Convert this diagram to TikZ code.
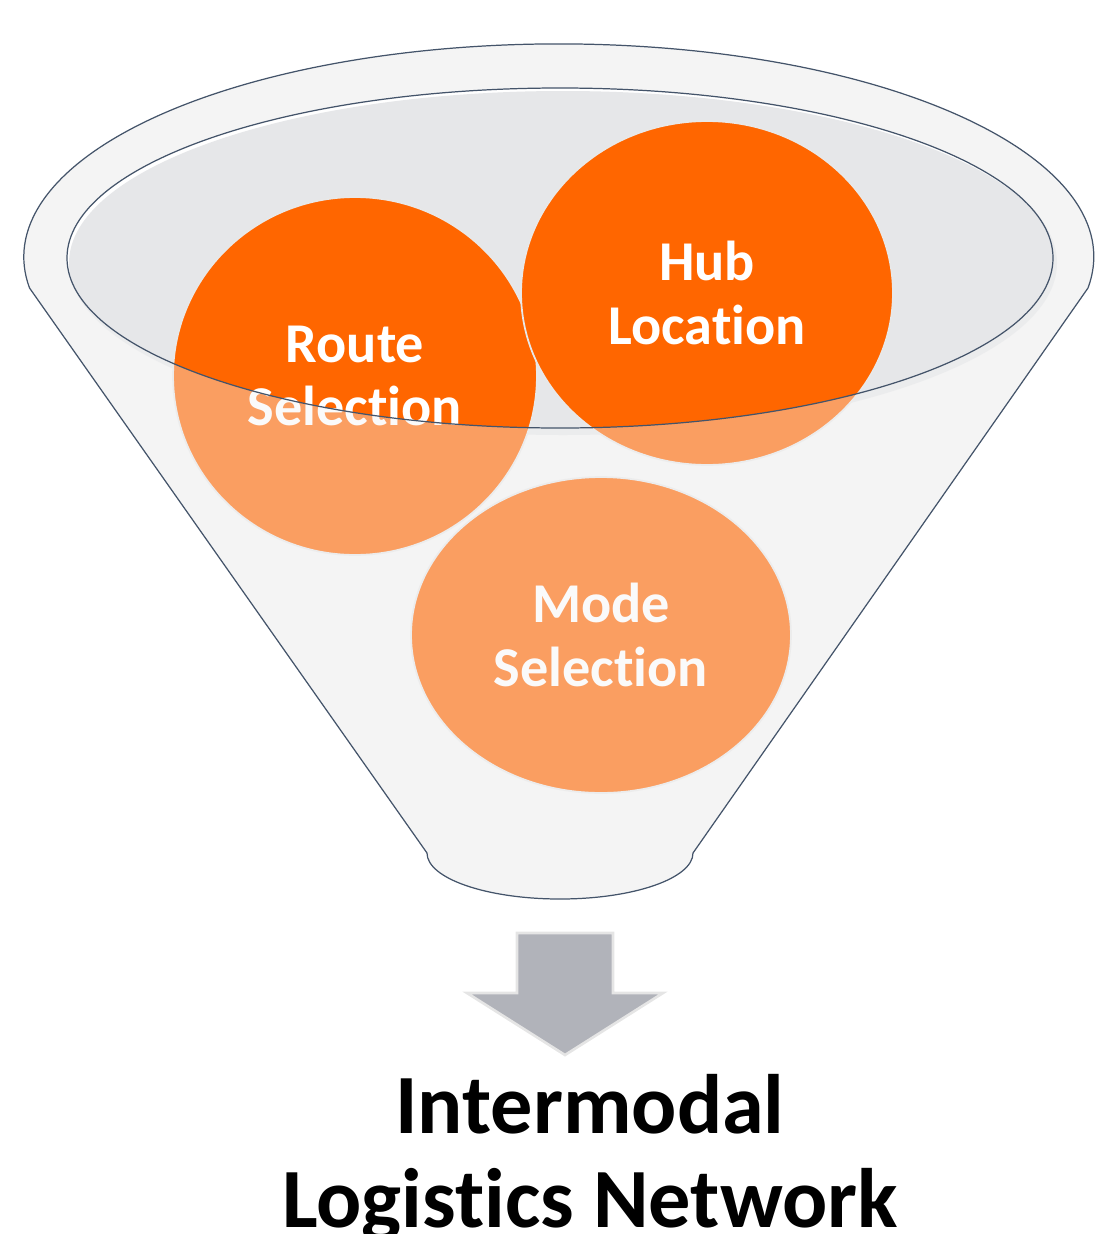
\documentclass[tikz,border=0pt]{standalone}
\usepackage{fontspec}
\setmainfont{Carlito}[Ligatures=NoCommon]
\usetikzlibrary{shapes.geometric}
\definecolor{rim}{HTML}{44546A}
\definecolor{funnel}{HTML}{F4F4F4}
\definecolor{bowl}{HTML}{E6E7E9}
\definecolor{hot}{HTML}{FF6600}
\definecolor{arrowgray}{HTML}{B1B3BA}
\tikzset{
  topic/.style={ellipse,fill=hot,draw=black!9,line width=1pt,text=white,inner sep=0pt,
    font=\bfseries\fontsize{32}{36}\selectfont,align=center},
  outline/.style={draw=rim,line width=0.7pt}
}
\begin{document}
\begin{tikzpicture}[x=0.02cm,y=-0.02cm]
    \useasboundingbox (0,0) rectangle (1095,1234);
    \coordinate (RimR) at (1088,288);
    \coordinate (NeckL) at (427,853);
    \coordinate (Bowl) at (560,258);
    \def\funnelpath{(RimR) arc[start angle=8.4,end angle=-188.4,x radius=535,y radius=213]
      -- (NeckL) arc[start angle=180,end angle=0,x radius=133,y radius=46] -- cycle}
    \def\bowlpath{(Bowl) ellipse[x radius=493,y radius=170]}
    \fill[funnel] \funnelpath;
    \fill[white] \bowlpath;
    \fill[bowl] (563,263) ellipse[x radius=494,y radius=172];
    \node[topic,minimum width=7.28cm,minimum height=7.16cm] (route) at (355,376) {Route\\Selection};
    \node[topic,minimum width=7.44cm,minimum height=6.88cm] (hub) at (707,293) {Hub\\Location};
    \node[topic,minimum width=7.6cm,minimum height=6.32cm] (mode) at (601,635) {Mode\\Selection};
    %front of the funnel
    \fill[funnel,opacity=.4,even odd rule] \funnelpath \bowlpath;
    \draw[outline] \bowlpath;
    \draw[outline] \funnelpath;
    \draw[fill=arrowgray,draw=black!10,line width=1.5pt] (517,933) -- (613,933) -- (613,993) -- (663,993)
      -- (565,1055) -- (467,993) -- (517,993) -- cycle;
    \node[font=\bfseries\fontsize{48}{54}\selectfont,align=center] (network) at (590,1158) {Intermodal\\Logistics Network};
\end{tikzpicture}
\end{document}
